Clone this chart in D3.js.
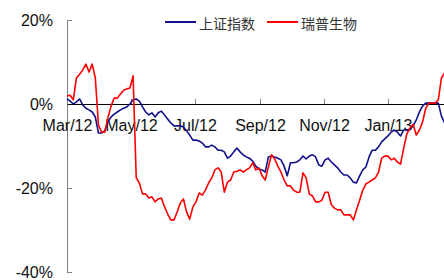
<!DOCTYPE html>
<html>
<head>
<meta charset="utf-8">
<script src="https://cdn.jsdelivr.net/npm/d3@7"></script>
<style>
  body { margin: 0; background: #fff; }
  svg { display: block; }
  .tick text { font-family: "Liberation Sans", Arial, sans-serif; font-size: 16px; fill: #111; }
  .legend text { font-family: "Noto Sans CJK SC", sans-serif; font-size: 14px; fill: #333; }
</style>
</head>
<body>
<div id="vis"></div>
<script>
// sample dates, every 3 days
var dates = [
  "2012-03-01","2012-03-04","2012-03-07","2012-03-10","2012-03-13","2012-03-16","2012-03-19","2012-03-22","2012-03-25","2012-03-28",
  "2012-03-31","2012-04-03","2012-04-06","2012-04-09","2012-04-12","2012-04-15","2012-04-18","2012-04-21","2012-04-24","2012-04-27",
  "2012-04-30","2012-05-03","2012-05-06","2012-05-09","2012-05-12","2012-05-15","2012-05-18","2012-05-21","2012-05-24","2012-05-27",
  "2012-05-30","2012-06-02","2012-06-05","2012-06-08","2012-06-11","2012-06-14","2012-06-17","2012-06-20","2012-06-23","2012-06-26",
  "2012-06-29","2012-07-02","2012-07-05","2012-07-08","2012-07-11","2012-07-14","2012-07-17","2012-07-20","2012-07-23","2012-07-26",
  "2012-07-29","2012-08-01","2012-08-04","2012-08-07","2012-08-10","2012-08-13","2012-08-16","2012-08-19","2012-08-22","2012-08-25",
  "2012-08-28","2012-08-31","2012-09-03","2012-09-06","2012-09-09","2012-09-12","2012-09-15","2012-09-18","2012-09-21","2012-09-24",
  "2012-09-27","2012-09-30","2012-10-03","2012-10-06","2012-10-09","2012-10-12","2012-10-15","2012-10-18","2012-10-21","2012-10-24",
  "2012-10-27","2012-10-30","2012-11-02","2012-11-05","2012-11-08","2012-11-11","2012-11-14","2012-11-17","2012-11-20","2012-11-23",
  "2012-11-26","2012-11-29","2012-12-02","2012-12-05","2012-12-08","2012-12-11","2012-12-14","2012-12-17","2012-12-20","2012-12-23",
  "2012-12-26","2012-12-29","2013-01-01","2013-01-04","2013-01-07","2013-01-10","2013-01-13","2013-01-16","2013-01-19","2013-01-22",
  "2013-01-25","2013-01-28","2013-01-31","2013-02-03","2013-02-06","2013-02-09","2013-02-12","2013-02-15","2013-02-18","2013-02-21",
  "2013-02-24"
];

// 上证指数, % change
var shIndex = [
  1.2, 0.7, 0, 0.5, 1.2, -0.2, -1.0, -1.4, -1.9, -3.1,
  -6.9, -6.9, -6.4, -4.3, -3.1, -2.4, -1.9, -1.4, -1.0, -0.7,
  0, 1.0, 1.2, 0.7, -0.7, -1.9, -2.6, -2.1, -3.1, -2.1,
  -1.7, -2.6, -3.6, -4.5, -5.2, -5.2, -5.2, -5.5, -6.4, -7.4,
  -8.6, -8.6, -8.8, -9.3, -10.2, -10.2, -9.8, -10.2, -11.0, -11.0,
  -11.4, -12.9, -12.4, -11.4, -10.5, -11.4, -12.1, -12.6, -12.9, -13.6,
  -14.8, -15.5, -15.7, -16.2, -12.6, -12.4, -12.6, -12.9, -13.3, -14.8,
  -17.1, -14.0, -14.0, -13.8, -13.3, -12.4, -13.1, -12.4, -12.1, -12.6,
  -14.5, -14.8, -13.3, -12.9, -13.8, -14.5, -15.2, -16.2, -16.9, -16.9,
  -17.6, -18.6, -18.8, -17.1, -15.7, -15.0, -12.6, -11.0, -11.0, -10.2,
  -9.0, -8.3, -7.6, -6.7, -6.2, -6.7, -7.6, -6.2, -6.2, -6.0,
  -5.2, -3.8, -1.9, -0.5, 0.2, 0.2, 0.2, 0.2, 0.2, -2.9,
  -4.5
];

// 瑞普生物, % change
var ruipu = [
  1.9, 2.1, 1.0, 6.2, 7.1, 8.1, 9.5, 7.6, 9.5, 6.2,
  -5.0, -6.7, -6.7, -3.3, -0.5, 1.4, 1.4, 2.4, 3.3, 3.6,
  3.8, 6.7, -17.6, -18.8, -21.4, -21.4, -22.4, -22.1, -23.3, -22.6,
  -22.4, -24.5, -26.2, -27.6, -27.6, -25.7, -23.6, -22.6, -25.7, -27.4,
  -24.5, -23.3, -21.2, -21.7, -20.5, -18.8, -17.6, -15.7, -15.2, -16.2,
  -21.0, -18.6, -18.1, -16.2, -16.0, -15.7, -16.2, -15.7, -15.2, -14.0,
  -15.7, -15.2, -17.1, -18.1, -15.0, -12.1, -13.1, -14.8, -16.2, -18.1,
  -19.5, -19.5, -20.5, -21.0, -21.0, -16.4, -17.6, -21.4, -21.9, -23.3,
  -23.3, -22.9, -21.0, -21.0, -24.0, -24.8, -25.2, -25.2, -26.4, -26.4,
  -26.4, -27.6, -25.2, -22.9, -20.5, -19.0, -18.6, -18.1, -17.6, -16.2,
  -12.9, -12.4, -12.4, -13.3, -12.9, -13.8, -14.3, -10.5, -7.1, -5.7,
  -4.8, -7.4, -6.2, -4.3, -1.0, 0.2, 0.2, 0.2, 1.0, 6.2,
  7.4
];

var seriesNames = ["上证指数", "瑞普生物"];
var seriesColors = ["#10108c", "#ff0000"];
var yTicks = [-40, -20, 0, 20];

var width = 444, height = 280;
var parse = d3.timeParse("%Y-%m-%d");
var xDates = dates.map(parse);

var svg = d3.select("#vis").append("svg")
    .attr("width", width)
    .attr("height", height);

var x = d3.scaleTime()
    .domain([xDates[0], xDates[xDates.length - 1]])
    .range([67, 444.6]);

var y = d3.scaleLinear()
    .domain([-40, 20])
    .range([272, 20]);

// y axis, ticks pointing into the plot
var yAxis = svg.append("g")
    .attr("transform", "translate(67,0)")
    .call(d3.axisLeft(y)
        .tickValues(yTicks)
        .tickFormat(function(d) { return d + "%"; })
        .tickSizeInner(-5)
        .tickSizeOuter(-5)
        .tickPadding(14));
yAxis.select(".domain").attr("stroke", "#808080");
yAxis.selectAll(".tick line").attr("stroke", "#808080");

// zero line with month ticks
var xAxis = svg.append("g")
    .attr("transform", "translate(0," + y(0) + ")")
    .call(d3.axisBottom(x)
        .ticks(d3.timeMonth.every(2))
        .tickFormat(d3.timeFormat("%b/%y"))
        .tickSizeInner(-5)
        .tickSizeOuter(0)
        .tickPadding(16));
xAxis.select(".domain").attr("stroke", "#000");
xAxis.selectAll(".tick line").attr("stroke", "#808080");

var line = d3.line()
    .x(function(d, i) { return x(xDates[i]); })
    .y(function(d) { return y(d); });

[shIndex, ruipu].forEach(function(vals, k) {
    svg.append("path")
        .datum(vals)
        .attr("fill", "none")
        .attr("stroke", seriesColors[k])
        .attr("stroke-width", 1.6)
        .attr("stroke-linejoin", "round")
        .attr("d", line);
});

// legend
var legend = svg.append("g").attr("class", "legend");
var legendX = [165, 267];
seriesNames.forEach(function(name, k) {
    legend.append("line")
        .attr("x1", legendX[k]).attr("x2", legendX[k] + 31)
        .attr("y1", 22).attr("y2", 22)
        .attr("stroke", seriesColors[k])
        .attr("stroke-width", 2);
    legend.append("text")
        .attr("x", legendX[k] + 34)
        .attr("y", 22.5)
        .attr("dominant-baseline", "central")
        .text(name);
});
</script>
</body>
</html>
